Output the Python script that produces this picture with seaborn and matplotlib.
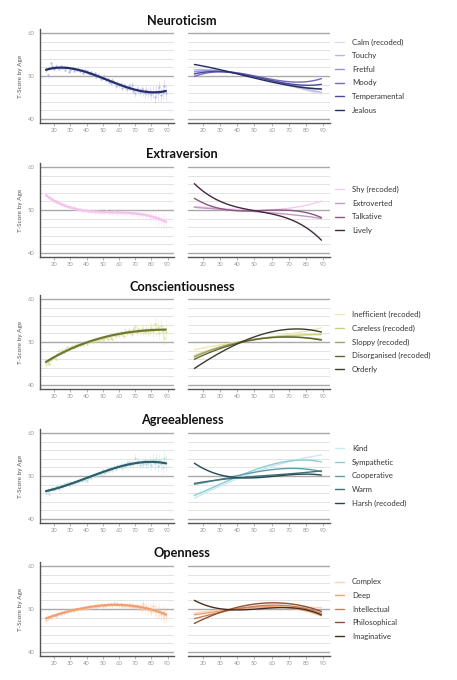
import numpy as np
import pandas as pd
import matplotlib
matplotlib.use('Agg')
import matplotlib.pyplot as plt
import seaborn as sns

# --- settings ---
OUTPUT_IMG = 'out.png'

# --- data ---
ages = list(range(15, 90))
knot_ages = [15, 20, 30, 40, 50, 60, 70, 80, 89]

# standard error by age (same samples for every trait)
age_err = [0.8, 0.6, 0.5, 0.4, 0.35, 0.35, 0.3, 0.3, 0.3, 0.3,
           0.3, 0.3, 0.3, 0.3, 0.3, 0.3, 0.3, 0.3, 0.3, 0.3,
           0.3, 0.3, 0.3, 0.3, 0.3, 0.3, 0.35, 0.35, 0.35, 0.35,
           0.35, 0.35, 0.4, 0.4, 0.4, 0.4, 0.45, 0.45, 0.45, 0.5,
           0.5, 0.5, 0.55, 0.55, 0.6, 0.6, 0.6, 0.65, 0.65, 0.7,
           0.7, 0.75, 0.75, 0.8, 0.8, 0.85, 0.9, 0.9, 0.95, 1.0,
           1.05, 1.1, 1.15, 1.2, 1.25, 1.3, 1.35, 1.4, 1.45, 1.5,
           1.55, 1.6, 1.65, 1.7, 1.8]

neuro_scores = [51.4, 50.2, 51.8, 52.9, 52.3, 51.6, 52.4, 52.0, 51.7, 52.3,
                51.9, 52.1, 51.5, 52.2, 51.0, 51.3, 51.8, 51.2, 51.6, 51.4,
                51.7, 51.1, 51.5, 50.6, 51.3, 51.2, 50.8, 50.5, 50.9, 50.2,
                50.6, 49.8, 50.3, 49.9, 49.3, 49.6, 49.9, 49.0, 49.4, 48.7,
                48.4, 49.0, 48.6, 47.6, 48.3, 47.9, 48.2, 47.2, 47.8, 47.5,
                47.0, 47.6, 47.3, 47.9, 46.6, 46.0, 47.1, 46.8, 46.4, 47.0,
                46.5, 46.1, 46.7, 46.0, 46.4, 45.8, 46.3, 45.1, 46.5, 46.0,
                47.4, 45.6, 46.2, 47.6, 46.0]
extra_scores = [53.6, 53.1, 52.9, 52.4, 52.6, 51.9, 52.1, 51.6, 51.8, 51.2,
                51.4, 51.0, 51.2, 50.7, 51.0, 50.6, 50.4, 50.7, 50.2, 50.3,
                50.0, 50.2, 49.8, 50.0, 49.7, 49.9, 49.6, 49.8, 49.5, 49.7,
                49.4, 49.7, 49.5, 49.6, 49.3, 49.6, 49.4, 49.7, 49.5, 49.3,
                49.6, 49.4, 49.7, 49.5, 49.3, 49.6, 49.4, 49.6, 49.3, 49.5,
                49.2, 49.5, 49.3, 49.1, 49.4, 49.2, 49.0, 49.3, 48.9, 49.1,
                48.8, 49.0, 48.6, 48.8, 48.4, 48.6, 48.2, 48.5, 48.0, 48.2,
                47.8, 48.0, 47.5, 47.7, 47.2]
consc_scores = [44.8, 45.3, 45.0, 45.9, 46.3, 46.4, 46.1, 47.2, 47.8, 47.5,
                48.1, 47.6, 48.4, 48.9, 48.3, 48.8, 49.1, 48.7, 49.3, 49.0,
                49.5, 49.2, 49.7, 49.4, 49.9, 49.6, 50.1, 49.9, 50.3, 50.0,
                50.4, 50.2, 50.6, 50.3, 50.8, 50.5, 50.9, 51.2, 50.8, 51.4,
                51.0, 50.6, 51.7, 51.3, 52.0, 51.6, 52.2, 51.9, 51.5, 52.6,
                52.1, 52.8, 52.3, 51.8, 53.0, 53.4, 52.4, 52.9, 52.5, 53.1,
                52.7, 52.3, 53.0, 52.6, 52.9, 53.3, 52.5, 54.1, 52.9, 53.5,
                52.2, 53.8, 52.6, 51.0, 52.4]
agree_scores = [46.0, 46.6, 45.8, 46.9, 47.3, 46.8, 47.4, 47.6, 47.1, 47.9,
                47.5, 48.1, 47.8, 48.4, 47.9, 48.5, 48.2, 48.7, 48.4, 48.9,
                48.6, 49.0, 48.8, 49.3, 49.0, 48.9, 49.6, 49.8, 49.5, 50.2,
                49.9, 50.4, 50.1, 50.7, 50.5, 51.4, 50.8, 51.0, 51.6, 51.2,
                51.9, 51.3, 52.2, 51.7, 52.4, 52.0, 52.6, 51.8, 52.8, 52.3,
                52.9, 53.3, 52.5, 53.1, 52.7, 54.2, 52.9, 53.4, 52.6, 53.2,
                52.8, 53.6, 52.7, 53.0, 53.3, 52.6, 53.7, 52.9, 54.0, 52.4,
                53.6, 52.8, 52.1, 54.2, 53.0]
open_scores = [47.4, 47.9, 48.2, 48.0, 48.5, 48.7, 48.4, 48.9, 49.1, 48.8,
               49.3, 49.0, 49.5, 49.2, 49.7, 49.5, 49.9, 49.6, 50.0, 49.8,
               50.1, 49.9, 50.2, 50.0, 50.3, 50.1, 50.4, 50.6, 50.2, 50.5,
               50.7, 50.4, 50.8, 50.6, 50.9, 50.7, 51.0, 50.8, 51.1, 50.9,
               51.2, 50.9, 51.4, 51.0, 51.2, 50.9, 51.1, 50.8, 51.0, 50.7,
               51.0, 50.6, 50.9, 50.5, 50.8, 50.4, 50.6, 50.2, 50.5, 50.1,
               51.2, 49.9, 50.4, 49.8, 50.1, 49.6, 50.7, 49.5, 49.8, 49.2,
               49.6, 48.9, 49.2, 48.5, 48.7]

# item curves, values at knot_ages
neuro_items = {
    'Calm (recoded)': [51.2, 51.2, 51.1, 50.9, 50.0, 48.8, 47.7, 46.8, 45.8],
    'Touchy':         [51.5, 51.4, 51.2, 50.8, 49.9, 48.8, 47.9, 47.0, 46.2],
    'Fretful':        [51.0, 51.1, 51.1, 50.8, 49.9, 48.9, 48.0, 47.4, 47.0],
    'Moody':          [50.0, 50.4, 50.9, 50.8, 50.1, 49.2, 48.6, 48.7, 49.4],
    'Temperamental':  [50.5, 50.8, 51.0, 50.7, 49.8, 48.8, 48.2, 48.0, 48.0],
    'Jealous':        [52.7, 52.3, 51.4, 50.5, 49.6, 48.6, 47.8, 47.2, 47.0],
}
extra_items = {
    'Shy (recoded)': [50.8, 50.7, 50.4, 50.1, 50.0, 50.0, 50.4, 51.2, 52.0],
    'Extroverted':   [50.6, 50.5, 50.2, 49.9, 49.6, 49.3, 49.0, 48.6, 48.0],
    'Talkative':     [52.6, 51.7, 50.6, 49.8, 49.6, 49.8, 50.1, 49.6, 48.1],
    'Lively':        [55.9, 54.5, 52.4, 50.6, 49.5, 48.9, 48.2, 46.2, 42.8],
}
consc_items = {
    'Inefficient (recoded)':  [48.2, 48.6, 49.3, 50.0, 50.6, 51.2, 51.8, 52.5, 53.3],
    'Careless (recoded)':     [46.8, 47.6, 48.9, 49.9, 50.6, 51.1, 51.5, 51.7, 51.7],
    'Sloppy (recoded)':       [46.5, 47.4, 48.8, 49.9, 50.6, 51.1, 51.2, 51.0, 50.6],
    'Disorganised (recoded)': [46.0, 46.9, 48.4, 49.8, 50.5, 50.9, 51.2, 51.0, 50.4],
    'Orderly':                [43.8, 45.2, 47.5, 49.7, 51.1, 52.2, 53.0, 53.1, 52.2],
}
agree_items = {
    'Kind':            [44.9, 45.8, 47.6, 49.4, 50.9, 52.2, 53.3, 54.2, 54.9],
    'Sympathetic':     [45.4, 46.4, 48.2, 49.8, 51.3, 52.6, 53.5, 53.8, 53.2],
    'Cooperative':     [48.0, 48.5, 49.3, 50.0, 50.8, 51.5, 51.8, 51.6, 51.0],
    'Warm':            [48.3, 48.6, 49.1, 49.6, 49.9, 50.2, 50.5, 50.8, 51.2],
    'Harsh (recoded)': [52.8, 51.9, 50.5, 49.6, 49.4, 49.7, 50.3, 50.8, 50.0],
}
open_items = {
    'Complex':       [49.0, 49.3, 49.8, 50.1, 50.3, 50.4, 50.4, 50.4, 50.3],
    'Deep':          [48.6, 49.0, 49.6, 50.0, 50.3, 50.5, 50.3, 49.6, 48.4],
    'Intellectual':  [47.7, 48.3, 49.3, 50.0, 50.5, 50.9, 50.8, 50.1, 49.0],
    'Philosophical': [46.6, 47.6, 49.3, 50.4, 51.0, 51.4, 51.3, 50.6, 49.4],
    'Imaginative':   [51.9, 51.2, 50.2, 49.7, 49.8, 50.3, 50.4, 49.8, 48.6],
}

traits = [
    {'title': 'Neuroticism', 'scores': neuro_scores, 'items': neuro_items,
     'palette': ['#dcdcf2', '#b9b7e6', '#9893d6', '#7467c0', '#474a92', '#222b5e'],
     'fit': '#25306a', 'pts': '#b3b3e0'},
    {'title': 'Extraversion', 'scores': extra_scores, 'items': extra_items,
     'palette': ['#f6c9f0', '#c896c2', '#86597f', '#3f2a3d'],
     'fit': '#f3c3ee', 'pts': '#f8dcf5'},
    {'title': 'Conscientiousness', 'scores': consc_scores, 'items': consc_items,
     'palette': ['#efe8b2', '#c9cc7a', '#a3a262', '#5e6733', '#3a3b29'],
     'fit': '#6c7a30', 'pts': '#dcdc98'},
    {'title': 'Agreeableness', 'scores': agree_scores, 'items': agree_items,
     'palette': ['#c4ecf0', '#8ccbd4', '#5f9ea8', '#3d7078', '#234a55'],
     'fit': '#2e5f6c', 'pts': '#b5dbe0'},
    {'title': 'Openness', 'scores': open_scores, 'items': open_items,
     'palette': ['#f8d4b0', '#f0a070', '#c8805a', '#8e5030', '#4a2a1e'],
     'fit': '#f0a070', 'pts': '#f7c7a5'},
]

# pixel layout
W, H = 457, 680
TOPS = [29, 163, 295, 429, 562]
BOTS = [123, 257, 389, 523, 656]
TITLE_Y = [21, 154, 287, 420, 553]


def style_axis(ax, left):
    ax.set_xlim(11.3, 94)
    ax.set_ylim(39.1, 60.9)
    ax.set_xticks(np.arange(20, 100, 10))
    ax.set_yticks([40, 50, 60])
    ax.set_yticks(np.arange(42, 60, 2), minor=True)
    ax.set_axisbelow(True)
    ax.grid(which='major', axis='y', color='#a9a9a9', lw=1.0)
    ax.grid(which='minor', axis='y', color='#e3e3e3', lw=0.7)
    ax.grid(which='major', axis='x', visible=False)
    for s in ['top', 'right']:
        ax.spines[s].set_visible(False)
    ax.spines['bottom'].set_color('#555555')
    ax.spines['bottom'].set_linewidth(1.0)
    ax.tick_params(axis='x', labelsize=4.2, labelcolor='#999999', length=2,
                   width=0.5, color='#999999', pad=1.5, bottom=True)
    ax.tick_params(axis='y', which='both', length=0)
    ax.set_xlabel('')
    if left:
        ax.spines['left'].set_color('#555555')
        ax.spines['left'].set_linewidth(1.0)
        ax.tick_params(axis='y', labelsize=4.2, labelcolor='#999999', pad=4)
        ax.set_ylabel('T-Score by Age', fontsize=4.6, color='#555555', labelpad=3)
    else:
        ax.spines['left'].set_visible(False)
        ax.set_yticklabels([])
        ax.set_ylabel('')


def main():
    sns.set_theme(style='white')
    plt.rcParams['font.family'] = ['Lato', 'DejaVu Sans']

    fig = plt.figure(figsize=(W / 100, H / 100), dpi=100)

    for i, cfg in enumerate(traits):
        top, bot = TOPS[i], BOTS[i]
        ax_l = fig.add_axes([40 / W, 1 - bot / H, 134 / W, (bot - top) / H])
        ax_r = fig.add_axes([188 / W, 1 - bot / H, 142 / W, (bot - top) / H])

        # left: composite score by age with fit
        df_pts = pd.DataFrame({'Age': ages, 'Score': cfg['scores'], 'Err': age_err})
        ax_l.errorbar(df_pts['Age'], df_pts['Score'], yerr=df_pts['Err'], fmt='none',
                      ecolor=cfg['pts'], elinewidth=0.5, alpha=0.5, zorder=2)
        sns.scatterplot(data=df_pts, x='Age', y='Score', ax=ax_l, color=cfg['pts'],
                        s=3, linewidth=0, alpha=0.8, zorder=3)
        sns.regplot(data=df_pts, x='Age', y='Score', ax=ax_l, order=3, ci=None,
                    scatter=False, line_kws={'color': cfg['fit'], 'lw': 1.6, 'zorder': 4})

        # right: item curves
        rows = []
        for item, vals in cfg['items'].items():
            for a, v in zip(knot_ages, vals):
                rows.append({'Item': item, 'Age': a, 'Score': v})
        df_items = pd.DataFrame(rows)
        for item, color in zip(cfg['items'].keys(), cfg['palette']):
            sub = df_items[df_items['Item'] == item]
            sns.regplot(data=sub, x='Age', y='Score', ax=ax_r, order=3, ci=None,
                        scatter=False, label=item,
                        line_kws={'color': color, 'lw': 1.0})

        style_axis(ax_l, True)
        style_axis(ax_r, False)

        ax_r.legend(loc='center left', bbox_to_anchor=(1.01, 0.5), frameon=False,
                    fontsize=5.6, handlelength=1.25, handletextpad=1.0,
                    labelspacing=0.85, borderaxespad=0.0, labelcolor='#333333')

        fig.text(182 / W, 1 - TITLE_Y[i] / H, cfg['title'], ha='center', va='center',
                 fontsize=9.2, fontweight='bold', color='#111111')

    fig.savefig(OUTPUT_IMG, dpi=100)


if __name__ == '__main__':
    main()
